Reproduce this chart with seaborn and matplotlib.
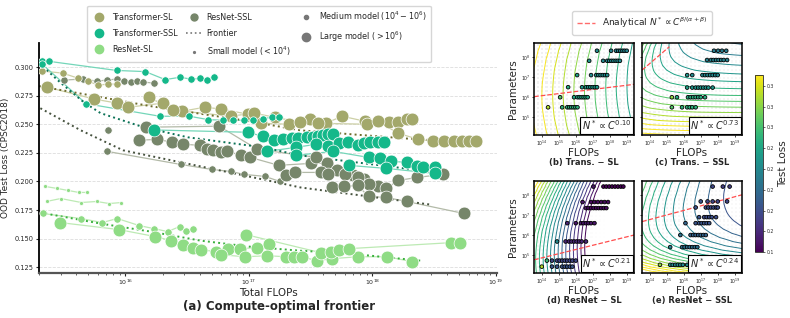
import numpy as np
import matplotlib
matplotlib.use("Agg")
import matplotlib.pyplot as plt
from matplotlib.lines import Line2D
from matplotlib.colors import Normalize
from matplotlib.cm import ScalarMappable
from matplotlib.ticker import FormatStrFormatter, NullLocator
import seaborn as sns

# ---------------- (a) compute-optimal frontier ----------------
# Transformer-SL runs (FLOPs, OOD loss)
TSL_1_X = [2.1e15, 3.1e15, 4.1e15, 5.0e15, 6.0e15, 7.3e15, 8.6e15]
TSL_1_Y = [0.2965, 0.2947, 0.2904, 0.2877, 0.2842, 0.2851, 0.2851]
TSL_2_X = [2.3e15, 5.6e15, 8.6e15, 1.06e16, 2.0e16, 2.9e16, 4.4e16, 6.0e16, 9.8e16, 1.26e17,
           2.1e17, 3.1e17, 4.2e17, 5.7e17, 8.7e17, 1.35e18, 1.62e18, 1.9e18, 2.1e18]
TSL_2_Y = [0.2825, 0.272, 0.2684, 0.2649, 0.2684, 0.2614, 0.2649, 0.2632, 0.2588, 0.2509,
           0.250, 0.2544, 0.2509, 0.257, 0.2526, 0.2518, 0.2518, 0.2544, 0.2544]
TSL_3_X = [1.55e16, 2.45e16, 7.1e16, 1.1e17, 1.62e17, 2.6e17, 3.6e17, 9.0e17, 1.1e18, 1.62e18,
           2.35e18, 3.1e18, 3.8e18, 4.6e18, 5.3e18, 6.1e18, 6.9e18]
TSL_3_Y = [0.2737, 0.2623, 0.257, 0.2597, 0.2561, 0.2518, 0.2509, 0.250, 0.2526, 0.2421,
           0.2368, 0.2351, 0.2351, 0.2351, 0.2351, 0.2351, 0.2351]
TSL_FRONT_X = [2.0e15, 6.3e15, 1.6e16, 1.02e17, 2.6e17, 2.3e18, 7.4e18]
TSL_FRONT_Y = [0.2833, 0.2737, 0.2658, 0.2526, 0.2447, 0.2368, 0.2342]

# Transformer-SSL runs
TSSL_1_X = [2.1e15, 2.4e15, 8.5e15, 1.45e16, 2.1e16, 2.75e16, 3.4e16, 4.0e16, 4.6e16, 5.2e16]
TSSL_1_Y = [0.305, 0.305, 0.297, 0.296, 0.289, 0.291, 0.2895, 0.290, 0.289, 0.291]
TSSL_2_X = [2.1e15, 4.8e15, 1.9e16, 3.3e16, 4.7e16, 6.2e16, 7.5e16, 9.1e16, 1.07e17, 1.3e17,
            1.55e17, 1.74e17]
TSSL_2_Y = [0.303, 0.268, 0.257, 0.257, 0.254, 0.2535, 0.2535, 0.2535, 0.2535, 0.255,
            0.256, 0.256]
TSSL_3_X = [1.7e16, 9.8e16, 1.29e17, 1.61e17, 1.9e17, 2.24e17, 2.5e17, 2.95e17, 3.3e17,
            3.6e17, 4.0e17, 4.4e17, 4.8e17]
TSSL_3_Y = [0.245, 0.243, 0.2395, 0.236, 0.237, 0.2377, 0.2377, 0.2386, 0.2386,
            0.2395, 0.2404, 0.2412, 0.2412]
TSSL_4_X = [1.41e17, 2.4e17, 3.5e17, 4.4e17, 5.4e17, 6.4e17, 7.6e17, 8.5e17, 9.6e17, 1.1e18, 1.25e18]
TSSL_4_Y = [0.2263, 0.2298, 0.2325, 0.2307, 0.2333, 0.2342, 0.2316, 0.2333, 0.2342, 0.2342, 0.2342]
TSSL_5_X = [2.4e17, 4.8e17, 9.3e17, 1.15e18, 1.41e18, 1.9e18, 2.3e18, 2.57e18, 3.2e18]
TSSL_5_Y = [0.2228, 0.2263, 0.221, 0.2202, 0.2176, 0.2167, 0.2132, 0.2123, 0.2123]
TSSL_6_X = [6.5e17, 1.3e18, 3.2e18]
TSSL_6_Y = [0.214, 0.2114, 0.207]
TSSL_FRONT_X = [2.0e15, 2.95e15, 4.6e15, 6.3e15, 1.4e16, 3.2e16, 1.3e17, 2.6e17, 2.45e18, 3.55e18]
TSSL_FRONT_Y = [0.3035, 0.2868, 0.2693, 0.2597, 0.2474, 0.2386, 0.2298, 0.2228, 0.2097, 0.2079]

# ResNet-SL runs
RSL_1_X = [2.25e15, 2.8e15, 3.45e15, 4.2e15, 4.9e15]
RSL_1_Y = [0.1956, 0.1939, 0.1921, 0.1904, 0.1904]
RSL_2_X = [2.3e15, 3.0e15, 4.4e15, 5.85e15, 7.4e15, 9.3e15]
RSL_2_Y = [0.1825, 0.1851, 0.1816, 0.1825, 0.1807, 0.1816]
RSL_3_X = [2.15e15, 4.35e15, 6.5e15, 8.6e15, 1.3e16, 1.7e16, 2.2e16, 2.75e16, 3.1e16, 3.55e16]
RSL_3_Y = [0.172, 0.1676, 0.1641, 0.1676, 0.1614, 0.1588, 0.1562, 0.1606, 0.157, 0.1588]
RSL_4_X = [2.95e15, 8.8e15, 1.75e16, 2.35e16, 2.95e16, 3.5e16, 4.1e16, 5.4e16, 6.8e16, 8.5e16,
           1.17e17, 1.45e17]
RSL_4_Y = [0.1641, 0.158, 0.1518, 0.1483, 0.1448, 0.1421, 0.1404, 0.1386, 0.1413, 0.1413,
           0.1421, 0.1456]
RSL_5_X = [5.9e16, 9.3e16, 1.41e17, 2.0e17, 2.3e17, 2.7e17, 3.55e17, 4.7e17, 7.6e17, 1.32e18, 2.1e18]
RSL_5_Y = [0.136, 0.1342, 0.1351, 0.1342, 0.1342, 0.1342, 0.1307, 0.1325, 0.1342, 0.1342, 0.1299]
RSL_6_X = [9.5e16, 3.8e17, 4.6e17, 5.4e17, 6.5e17, 4.3e18, 5.1e18]
RSL_6_Y = [0.1535, 0.1378, 0.1386, 0.1404, 0.1413, 0.1465, 0.1465]
RSL_FRONT_X = [2.05e15, 6.3e15, 1.6e16, 4.05e16, 1.02e17, 2.6e17, 6.6e17, 2.45e18]
RSL_FRONT_Y = [0.1728, 0.1632, 0.1562, 0.1483, 0.143, 0.1395, 0.1369, 0.1308]

# ResNet-SSL runs
RSSL_1_X = [3.2e15, 4.5e15, 5.9e15, 7.1e15, 8.5e15, 9.8e15, 1.12e16, 1.25e16, 1.4e16, 1.7e16]
RSSL_1_Y = [0.2886, 0.2895, 0.2877, 0.2886, 0.2895, 0.2877, 0.2868, 0.2877, 0.2868, 0.286]
RSSL_2_X = [7.1e15, 2.8e16, 5.0e16, 7.1e16, 9.1e16, 1.35e17, 1.78e17]
RSSL_2_Y = [0.2263, 0.2149, 0.2105, 0.2088, 0.2062, 0.2044, 0.200]
RSSL_3_X = [7.3e15]
RSSL_3_Y = [0.2447]
RSSL_4_X = [1.28e16, 1.82e16, 2.4e16, 2.95e16, 4.0e16, 4.6e16, 5.1e16, 5.9e16, 6.7e16, 8.7e16,
            1.02e17, 1.74e17, 3.2e17, 4.3e17]
RSSL_4_Y = [0.236, 0.2368, 0.2342, 0.2325, 0.2316, 0.2281, 0.2272, 0.2255, 0.2263, 0.2228,
            0.2211, 0.2141, 0.2158, 0.2158]
RSSL_5_X = [1.48e16, 5.75e16, 1.17e17, 3.5e17, 5.2e17, 6.9e17, 8.5e17, 1.1e18, 1.29e18, 1.62e18,
            2.3e18, 3.7e18]
RSSL_5_Y = [0.2474, 0.2483, 0.2281, 0.2211, 0.2097, 0.2053, 0.2018, 0.1956, 0.1939, 0.2009,
            0.2035, 0.2062]
RSSL_6_X = [2.0e17, 2.35e17, 3.8e17, 4.4e17, 6.0e17, 7.6e17, 9.3e17]
RSSL_6_Y = [0.2053, 0.2079, 0.2079, 0.2062, 0.2062, 0.2035, 0.1974]
RSSL_7_X = [4.7e17, 5.9e17, 7.6e17, 9.3e17, 1.29e18, 1.9e18, 5.5e18]
RSSL_7_Y = [0.1948, 0.1956, 0.1965, 0.1869, 0.186, 0.1825, 0.172]
RSSL_FRONT_X = [2.05e15, 4.35e15, 9.6e15, 4.05e16, 1.7e17, 2.6e17, 2.95e18]
RSSL_FRONT_Y = [0.264, 0.2447, 0.2272, 0.2132, 0.1991, 0.1948, 0.1798]

# ---------------- (b)-(e) scaling-law panels (log10 values) ----------------
B_ROW_N = [8.30, 7.80, 7.09, 6.49, 5.99, 5.49]
B_ROW_C = [[17.25, 18.08, 18.37, 18.5, 18.62, 18.75, 18.87, 19.0],
           [16.79, 17.61, 17.85, 17.97, 18.1, 18.22, 18.35, 18.47, 18.6],
           [16.08, 16.9, 17.2, 17.33, 17.46, 17.59, 17.72, 17.85],
           [15.55, 16.37, 16.6, 16.73, 16.86, 16.99, 17.12, 17.25],
           [15.08, 15.9, 16.1, 16.22, 16.34, 16.46, 16.58, 16.7],
           [14.37, 15.2, 15.5, 15.62, 15.74, 15.86, 15.98, 16.1]]
B_FIRST_LOSS = [0.22, 0.23, 0.24, 0.25, 0.27, 0.30]
B_REST_LOSS = [0.215, 0.22, 0.225, 0.235, 0.245, 0.255]

C_ROW_N = [8.30, 7.84, 7.09, 6.47, 5.99, 5.49]
C_ROW_C = [[17.78, 18.02, 18.25, 18.5],
           [17.37, 17.6, 17.75, 17.9, 18.05, 18.2, 18.35, 18.55],
           [16.2, 16.5, 17.1, 17.25, 17.4, 17.55, 17.7, 17.85, 18.0],
           [16.2, 16.5, 16.7, 16.85, 17.0, 17.15, 17.3, 17.45, 17.7],
           [15.3, 15.6, 16.25, 16.4, 16.55, 16.7, 16.85, 17.0, 17.25],
           [15.3, 15.9, 16.2, 16.35, 16.5, 16.7]]
C_FIRST_LOSS = [0.21, 0.215, 0.23, 0.24, 0.29, 0.27]
C_REST_LOSS = [0.21, 0.215, 0.22, 0.23, 0.25, 0.255]

D_ROW_N = [8.41, 7.64, 7.34, 6.59, 5.68, 4.73, 4.43]
D_ROW_C = [[17.04, 17.63, 17.8, 17.97, 18.14, 18.31, 18.48, 18.65, 18.8],
           [16.4, 16.9, 17.1, 17.3, 17.5, 17.7, 17.9],
           [16.6, 16.75, 16.9, 17.05, 17.2, 17.35, 17.5, 17.65, 17.8],
           [15.5, 16.0, 16.3, 16.45, 16.6, 16.75, 16.9, 17.1],
           [14.9, 15.4, 15.6, 15.75, 15.9, 16.05, 16.2, 16.35, 16.6],
           [14.3, 14.6, 14.9, 15.05, 15.2, 15.35, 15.5, 15.65, 15.8, 16.0],
           [14.0, 14.6, 14.9, 15.2, 15.35, 15.5, 15.65, 15.8]]
D_FIRST_LOSS = [0.14, 0.14, 0.14, 0.15, 0.22, 0.26, 0.30]
D_REST_LOSS = [0.13, 0.135, 0.135, 0.14, 0.15, 0.17, 0.18]

E_ROW_N = [8.41, 7.67, 7.37, 6.89, 6.59, 6.00, 5.40, 4.52]
E_ROW_C = [[17.7, 18.3, 18.7],
           [17.0, 17.4, 17.7, 18.0, 18.55],
           [16.7, 17.3, 17.45, 17.6, 17.75, 17.9, 18.0],
           [16.9, 17.2, 17.35, 17.5, 17.65, 17.9],
           [16.1, 16.7, 16.9, 17.05, 17.2, 17.35, 17.5],
           [15.8, 16.4, 16.55, 16.7, 16.85, 17.0, 17.15, 17.3],
           [15.2, 15.9, 16.05, 16.2, 16.35, 16.5, 16.65, 16.8],
           [14.6, 15.2, 15.35, 15.5, 15.65, 15.8, 15.95, 16.2]]
E_FIRST_LOSS = [0.17, 0.18, 0.18, 0.18, 0.19, 0.20, 0.21, 0.29]
E_REST_LOSS = [0.165, 0.17, 0.175, 0.175, 0.18, 0.19, 0.20, 0.22]

# analytical N* lines (log10 FLOPs, log10 params)
B_RED_C, B_RED_N = [13.55, 19.43], [6.02, 6.63]
C_RED_C, C_RED_N = [13.55, 15.15], [7.34, 8.50]
D_RED_C, D_RED_N = [13.55, 19.43], [4.77, 6.00]
E_RED_C, E_RED_N = [13.55, 19.43], [6.67, 8.00]
EXPONENTS = ["0.10", "0.73", "0.21", "0.24"]

# fitted loss surface parameters
B_FIT = dict(L0=0.32, m=0.016, n0=6.07, s=0.10, k=0.08)
D_FIT = dict(L0=0.243, m=0.045, n0=4.86, s=0.21, k=0.10)
C_FIT = dict(E=0.12, A=0.565, a=0.10, b=0.27, g=1.0, c0=13.55, n0=7.34)
E_FIT = dict(E=0.13, A=4.45, a=0.357, b=0.10, g=0.6, c0=13.55, n0=6.67)


def bowed_loss(c, n, L0, m, n0, s, k):
    nstar = n0 + s * (c - 14)
    ceff = c - k * (n - nstar) ** 2
    return L0 - m * (ceff - 14)


def chinchilla_loss(c, n, E, A, a, b, g, c0, n0):
    B = a * A * 10 ** (-a * n0) / (b * g * 10 ** (-b * (c0 - g * n0)))
    return E + A * 10 ** (-a * n) + B * 10 ** (-b * (c - g * n))


sns.set_theme(style="white")
plt.rcParams['font.family'] = ['DejaVu Sans']

fig = plt.figure(figsize=(7.9, 3.18), dpi=100)

# ---------- left panel ----------
ax = fig.add_axes([0.0494, 0.1415, 0.5797, 0.7233])
SIZES = {"S": 8, "M": 28, "L": 85}

families = [
    ("ResNet-SSL", "#76866a", "#b3baa8", "#46523e",
     [("M", RSSL_1_X, RSSL_1_Y), ("M", RSSL_2_X, RSSL_2_Y), ("M", RSSL_3_X, RSSL_3_Y),
      ("L", RSSL_4_X, RSSL_4_Y), ("L", RSSL_5_X, RSSL_5_Y), ("L", RSSL_6_X, RSSL_6_Y),
      ("L", RSSL_7_X, RSSL_7_Y)], RSSL_FRONT_X, RSSL_FRONT_Y),
    ("Transformer-SL", "#a3a86b", "#cdd0a6", "#6e6c2c",
     [("M", TSL_1_X, TSL_1_Y), ("L", TSL_2_X, TSL_2_Y), ("L", TSL_3_X, TSL_3_Y)],
     TSL_FRONT_X, TSL_FRONT_Y),
    ("Transformer-SSL", "#14b88a", "#74d6b9", "#0b7257",
     [("M", TSSL_1_X, TSSL_1_Y), ("M", TSSL_2_X, TSSL_2_Y), ("L", TSSL_3_X, TSSL_3_Y),
      ("L", TSSL_4_X, TSSL_4_Y), ("L", TSSL_5_X, TSSL_5_Y), ("L", TSSL_6_X, TSSL_6_Y)],
     TSSL_FRONT_X, TSSL_FRONT_Y),
    ("ResNet-SL", "#8fdc85", "#bdeab4", "#38b03c",
     [("S", RSL_1_X, RSL_1_Y), ("S", RSL_2_X, RSL_2_Y), ("M", RSL_3_X, RSL_3_Y),
      ("L", RSL_4_X, RSL_4_Y), ("L", RSL_5_X, RSL_5_Y), ("L", RSL_6_X, RSL_6_Y)],
     RSL_FRONT_X, RSL_FRONT_Y),
]

for name, color, lcolor, fcolor, runs, fx, fy in families:
    for size, xs, ys in runs:
        ax.plot(xs, ys, color=lcolor, lw=0.9, zorder=1)
        sns.scatterplot(x=xs, y=ys, s=SIZES[size], color=color, edgecolor="white",
                        linewidth=0.5, ax=ax, zorder=3, legend=False)
    ax.plot(fx, fy, ls=":", color=fcolor, lw=1.4, zorder=2)

ax.set_xscale("log")
ax.set_xlim(2.0e15, 1.02e19)
ax.set_ylim(0.12, 0.321)
ax.set_xticks([1e16, 1e17, 1e18, 1e19])
ax.set_yticks([0.125, 0.15, 0.175, 0.2, 0.225, 0.25, 0.275, 0.3])
ax.yaxis.set_major_formatter(FormatStrFormatter("%.3f"))
ax.tick_params(axis="y", labelsize=4.8, length=2.5, width=0.8, left=True, pad=1.5)
ax.tick_params(axis="x", which="major", labelsize=4.5, length=2.5, width=0.8, bottom=True, pad=1)
ax.tick_params(axis="x", which="minor", length=1.5, width=0.5, bottom=True)
ax.grid(axis="y", ls="--", color="#dddddd", lw=0.6)
for sp in ["top", "right"]:
    ax.spines[sp].set_visible(False)
ax.spines["left"].set_color("black")
ax.spines["left"].set_linewidth(1.3)
ax.spines["bottom"].set_color("#555555")
ax.spines["bottom"].set_linewidth(1.6)
ax.set_ylabel("OOD Test Loss (CPSC2018)", fontsize=6.5, labelpad=3)
ax.set_xlabel("Total FLOPs", fontsize=7.5, labelpad=0.5)
fig.text(0.353, 0.035, "(a) Compute-optimal frontier", ha="center", va="center",
         fontsize=8.5, fontweight="bold")

handles = [
    Line2D([], [], ls="", marker="o", ms=6, color="#a3a86b", label="Transformer-SL"),
    Line2D([], [], ls="", marker="o", ms=6, color="#14b88a", label="Transformer-SSL"),
    Line2D([], [], ls="", marker="o", ms=6, color="#8fdc85", label="ResNet-SL"),
    Line2D([], [], ls="", marker="o", ms=5, color="#76866a", label="ResNet-SSL"),
    Line2D([], [], ls=":", lw=1.2, color="#777777", label="Frontier"),
    Line2D([], [], ls="", marker="o", ms=1.3, color="#777777", label="Small model ($<10^4$)"),
    Line2D([], [], ls="", marker="o", ms=3, color="#777777", label="Medium model ($10^4-10^6$)"),
    Line2D([], [], ls="", marker="o", ms=6, color="#777777", label="Large model ($>10^6$)"),
]
fig.legend(handles=handles, loc="upper left", bbox_to_anchor=(0.105, 0.995), ncol=3,
           fontsize=5.8, frameon=True, edgecolor="#cccccc", labelspacing=0.85,
           handlelength=2.0, handletextpad=0.6, columnspacing=1.0, borderpad=0.5)

# ---------- right panels ----------
NORM = Normalize(vmin=0.13, vmax=0.322)
LEVELS = np.arange(0.13, 0.345, 0.01)
cg = np.linspace(13.3, 19.8, 28)
ng = np.linspace(4.0, 8.8, 24)
CC, NN = np.meshgrid(cg, ng)

panels = [
    ([0.676, 0.5755, 0.1266, 0.289], bowed_loss(CC, NN, **B_FIT), B_ROW_N, B_ROW_C,
     B_FIRST_LOSS, B_REST_LOSS, B_RED_C, B_RED_N, EXPONENTS[0], "(b) Trans. − SL", True),
    ([0.8127, 0.5755, 0.1266, 0.289], chinchilla_loss(CC, NN, **C_FIT), C_ROW_N, C_ROW_C,
     C_FIRST_LOSS, C_REST_LOSS, C_RED_C, C_RED_N, EXPONENTS[1], "(c) Trans. − SSL", False),
    ([0.676, 0.1415, 0.1266, 0.289], bowed_loss(CC, NN, **D_FIT), D_ROW_N, D_ROW_C,
     D_FIRST_LOSS, D_REST_LOSS, D_RED_C, D_RED_N, EXPONENTS[2], "(d) ResNet − SL", True),
    ([0.8127, 0.1415, 0.1266, 0.289], chinchilla_loss(CC, NN, **E_FIT), E_ROW_N, E_ROW_C,
     E_FIRST_LOSS, E_REST_LOSS, E_RED_C, E_RED_N, EXPONENTS[3], "(e) ResNet − SSL", False),
]

for pos, Z, rn, rc, lf, lr, redc, redn, expo, title, show_y in panels:
    pax = fig.add_axes(pos)
    pax.set_xscale("log")
    pax.set_yscale("log")
    pax.pcolormesh(10 ** CC, 10 ** NN, Z, cmap="Greys", vmin=0.06, vmax=2.3,
                   shading="auto", edgecolors="white", linewidth=0.25, zorder=0)
    pax.contour(10 ** CC, 10 ** NN, Z, levels=LEVELS, cmap="viridis", norm=NORM,
                linewidths=0.7, zorder=1)
    pax.plot(10 ** np.array(redc), 10 ** np.array(redn), ls="--", color="#ff4d4d",
             lw=0.9, zorder=2)
    for n, cs, l1, l2 in zip(rn, rc, lf, lr):
        losses = [l1] + [l2] * (len(cs) - 1)
        pax.scatter(10 ** np.array(cs), [10 ** n] * len(cs), c=losses, cmap="viridis",
                    norm=NORM, s=7, edgecolors="black", linewidths=0.6, zorder=3)
    pax.set_xlim(3.5e13, 2.7e19)
    pax.set_ylim(1.3e4, 4.8e8)
    pax.set_xticks([1e14, 1e15, 1e16, 1e17, 1e18, 1e19])
    pax.set_yticks([1e5, 1e6, 1e7, 1e8])
    pax.xaxis.set_minor_locator(NullLocator())
    pax.yaxis.set_minor_locator(NullLocator())
    pax.tick_params(labelsize=3.3, length=1.5, width=0.6, pad=1, bottom=True, left=True)
    if not show_y:
        pax.set_yticklabels([])
    for sp in pax.spines.values():
        sp.set_color("black")
        sp.set_linewidth(1.1)
    pax.set_xlabel("FLOPs", fontsize=7.5, labelpad=0.5)
    if show_y:
        pax.set_ylabel("Parameters", fontsize=7.5, labelpad=2)
    pax.text(0.5, -0.30, title, transform=pax.transAxes, ha="center", va="center",
             fontsize=6, fontweight="bold")
    pax.text(0.97, 0.03, r"$N^*\propto C^{%s}$" % expo, transform=pax.transAxes,
             ha="right", va="bottom", fontsize=7, zorder=5,
             bbox=dict(boxstyle="square,pad=0.15", fc="white", ec="black", lw=0.8))

red_handle = [Line2D([], [], ls="--", color="#ff6b6b", lw=1.0,
                     label=r"Analytical $N^*\propto C^{\beta/(\alpha+\beta)}$")]
fig.legend(handles=red_handle, loc="center", bbox_to_anchor=(0.8127, 0.928), fontsize=6.5,
           frameon=True, edgecolor="#cccccc", handlelength=2.0, borderpad=0.5)

cax = fig.add_axes([0.9557, 0.2075, 0.0101, 0.557])
cb = fig.colorbar(ScalarMappable(norm=NORM, cmap="viridis"), cax=cax,
                  ticks=np.linspace(0.13, 0.31, 9))
cb.ax.yaxis.set_major_formatter(FormatStrFormatter("%.1f"))
cb.ax.tick_params(labelsize=3.3, length=1.5, width=0.5, pad=1)
cb.outline.set_linewidth(0.6)
cb.set_label("Test Loss", fontsize=7.5, labelpad=3)

fig.savefig("out.png", dpi=100)
